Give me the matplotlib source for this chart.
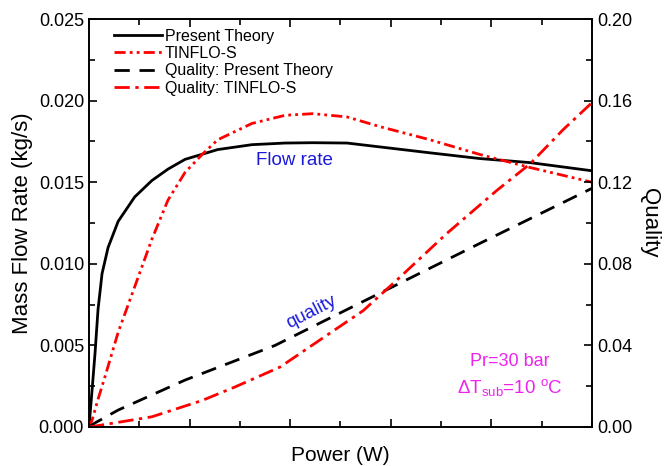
import numpy as np
import matplotlib.pyplot as plt
from matplotlib.ticker import MultipleLocator, NullFormatter

plt.rcParams['font.family'] = ['Liberation Sans', 'DejaVu Sans']
plt.rcParams['mathtext.fontset'] = 'custom'
plt.rcParams['mathtext.rm'] = 'Liberation Sans'
plt.rcParams['mathtext.it'] = 'Liberation Sans:italic'

# power in arbitrary units (no tick labels on the x axis)
power_pt = [0, 6, 12, 18, 26, 38, 58, 91, 125, 157, 191, 256, 324, 390,
            445, 513, 579, 678, 777, 877, 1000]
flow_pt = [0, 0.0022, 0.0045, 0.0072, 0.0094, 0.0110, 0.0126, 0.0141, 0.0151,
           0.0158, 0.0164, 0.0170, 0.0173, 0.0174, 0.01742, 0.0174, 0.01716,
           0.0168, 0.01645, 0.0162, 0.0157]

power_tf = [0, 6, 18, 32, 58, 91, 125, 157, 191, 225, 256, 324, 390, 445,
            513, 579, 678, 777, 877, 1000]
flow_tf = [0, 0.0004, 0.0017, 0.0031, 0.0058, 0.0086, 0.0115, 0.0139, 0.0156,
           0.0167, 0.0176, 0.0186, 0.0191, 0.0192, 0.0190, 0.0184, 0.0176,
           0.0167, 0.0159, 0.0150]

power_q = [0, 12, 58, 191, 370, 579, 777, 1000]
quality_pt = [0, 0.002, 0.0083, 0.023, 0.040, 0.0657, 0.090, 0.117]

power_qtf = [0, 26, 125, 225, 290, 380, 479, 545, 612, 712, 811, 877, 942, 1000]
quality_tf = [0, 0.001, 0.005, 0.013, 0.0196, 0.0294, 0.046, 0.057, 0.072,
              0.095, 0.116, 0.129, 0.1456, 0.159]

fig = plt.figure(figsize=(6.72, 4.66), dpi=100)
ax = fig.add_axes([0.1324, 0.0837, 0.7485, 0.8755])
ax2 = ax.twinx()

l1, = ax.plot(power_pt, flow_pt, color='black', lw=2, label='Present Theory')
l2, = ax.plot(power_tf, flow_tf, color='red', lw=2,
              linestyle=(0, (4, 1.5, 1, 1.5, 1, 1.5)), label='TINFLO-S')
l3, = ax2.plot(power_q, quality_pt, color='black', lw=2,
               linestyle=(0, (5.5, 3.5)), label='Quality: Present Theory')
l4, = ax2.plot(power_qtf, quality_tf, color='red', lw=2,
               linestyle=(0, (5.5, 2, 1.2, 2)), label='Quality: TINFLO-S')

ax.set_xlim(0, 1000)
ax.set_ylim(0, 0.025)
ax2.set_ylim(0, 0.20)

ax.xaxis.set_major_locator(MultipleLocator(200))
ax.xaxis.set_minor_locator(MultipleLocator(100))
ax.xaxis.set_major_formatter(NullFormatter())
ax.yaxis.set_major_locator(MultipleLocator(0.005))
ax.yaxis.set_minor_locator(MultipleLocator(0.0025))
ax.yaxis.set_major_formatter(plt.FormatStrFormatter('%.3f'))
ax2.yaxis.set_major_locator(MultipleLocator(0.04))
ax2.yaxis.set_minor_locator(MultipleLocator(0.02))
ax2.yaxis.set_major_formatter(plt.FormatStrFormatter('%.2f'))

ax.tick_params(which='both', direction='in', top=True, right=False,
               labelsize=13, width=1.2)
ax.tick_params(which='major', length=6)
ax.tick_params(which='minor', length=4)
ax2.tick_params(which='both', direction='in', labelsize=13, width=1.2)
ax2.tick_params(which='major', length=6)
ax2.tick_params(which='minor', length=4)
for a in (ax, ax2):
    for s in a.spines.values():
        s.set_linewidth(1.2)

ax.set_xlabel('Power (W)', fontsize=15, labelpad=10)
ax.set_ylabel('Mass Flow Rate (kg/s)', fontsize=16, labelpad=4)
ax2.set_ylabel('Quality', fontsize=16, rotation=270, labelpad=20)

ax.legend(handles=[l1, l2, l3, l4], loc='upper left', frameon=False,
          fontsize=11.5, handlelength=3.0, handletextpad=0.2,
          labelspacing=0.15, borderaxespad=0.2, bbox_to_anchor=(0.03, 1.0))

ax.text(333, 0.0163, 'Flow rate', color='#1a1adb', fontsize=13.5,
        ha='left', va='center')
ax.text(443, 0.00705, 'quality', color='#1a1adb', fontsize=13.5,
        ha='center', va='center', rotation=27)
ax.text(837, 0.0040, 'Pr=30 bar', color='#ee22ee', fontsize=13,
        ha='center', va='center')
ax.text(837, 0.0024, r'$\Delta$T$_{\rm sub}$=10 $^{\rm o}$C', color='#ee22ee',
        fontsize=13.5, ha='center', va='center')

fig.savefig('out.png', dpi=100)
